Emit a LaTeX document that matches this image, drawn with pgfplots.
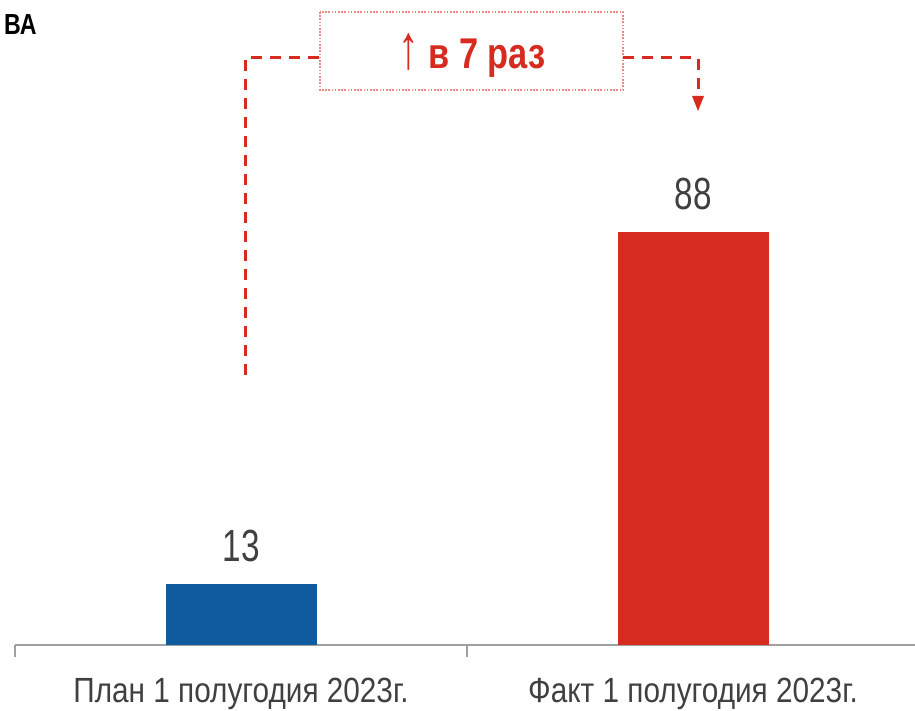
\documentclass[border=0pt]{standalone}
\usepackage{fontspec}
\usepackage{graphicx}
\setmainfont{Liberation Sans}[FakeStretch=0.8]
\newfontfamily\labfont{Liberation Sans}[FakeStretch=0.85]
\newfontfamily\numfont{Liberation Sans}[FakeStretch=0.74]
\newfontfamily\boldcond{Liberation Sans}[FakeStretch=0.8, UprightFont=*-Bold]
\usepackage{pgfplots}
\pgfplotsset{compat=1.18}
\definecolor{barblue}{HTML}{0E5C9E}
\definecolor{barred}{HTML}{D62B1F}
\definecolor{txtgray}{HTML}{404040}
\definecolor{axgray}{HTML}{A0A0A0}
\definecolor{boxred}{HTML}{E88A85}
\begin{document}
\begin{tikzpicture}
\useasboundingbox (0,0) rectangle (457.5pt,355.5pt);
\begin{axis}[
  at={(7.5pt,33pt)}, anchor=south west,
  scale only axis, width=452pt, height=234.66pt,
  xmin=-0.5, xmax=1.5, ymin=0, ymax=100,
  enlargelimits=false,
  /pgf/number format/assume math mode=true,
  axis x line*=bottom, axis y line=none,
  axis line style={axgray, line width=0.75pt},
  xtick={0,1},
  xticklabels={План 1 полугодия 2023г., Факт 1 полугодия 2023г.},
  major tick length=0pt,
  extra x ticks={-0.5,0.5,1.5},
  extra x tick labels={},
  extra x tick style={major tick length=6pt, tick align=outside, tick style={axgray, line width=0.75pt}},
  xticklabel style={font=\labfont\fontsize{17.5pt}{20pt}\selectfont, text=txtgray, yshift=-13pt},
  ytick=\empty,
  nodes near coords,
  every node near coord/.append style={font=\numfont\fontsize{22.5pt}{26pt}\selectfont, text=txtgray, inner sep=0pt, yshift=11pt},
  bar width=75.5pt,
  ybar=0pt, bar shift=0pt,
]
\addplot[ybar, fill=barblue, draw=none] coordinates {(0,13)};
\addplot[ybar, fill=barred, draw=none] coordinates {(1,88)};
\end{axis}
\begin{scope}[x=0.5pt, y=-0.5pt, yshift=355.5pt]
  \node[anchor=base east, inner sep=0pt, font=\boldcond\fontsize{14.5pt}{16pt}\selectfont] at (37,35) {ВА};
  \draw[barred, line width=1.5pt, dash pattern=on 5.5pt off 4pt] (245,375) -- (245,58) -- (320,58);
  \draw[boxred, line width=0.6pt, dash pattern=on 0.8pt off 0.8pt] (320,12) rectangle (623,90);
  \node[text=barred, font=\boldcond\fontsize{21.5pt}{24pt}\selectfont, inner sep=0pt] at (472,55) {\scalebox{1.2}[1.45]{↑} в 7 раз};
  \draw[barred, line width=1.5pt, dash pattern=on 5.5pt off 4pt] (623,58) -- (698,58) -- (698,98);
  \fill[barred] (692,96) -- (704,96) -- (698,111) -- cycle;
\end{scope}
\end{tikzpicture}
\end{document}
